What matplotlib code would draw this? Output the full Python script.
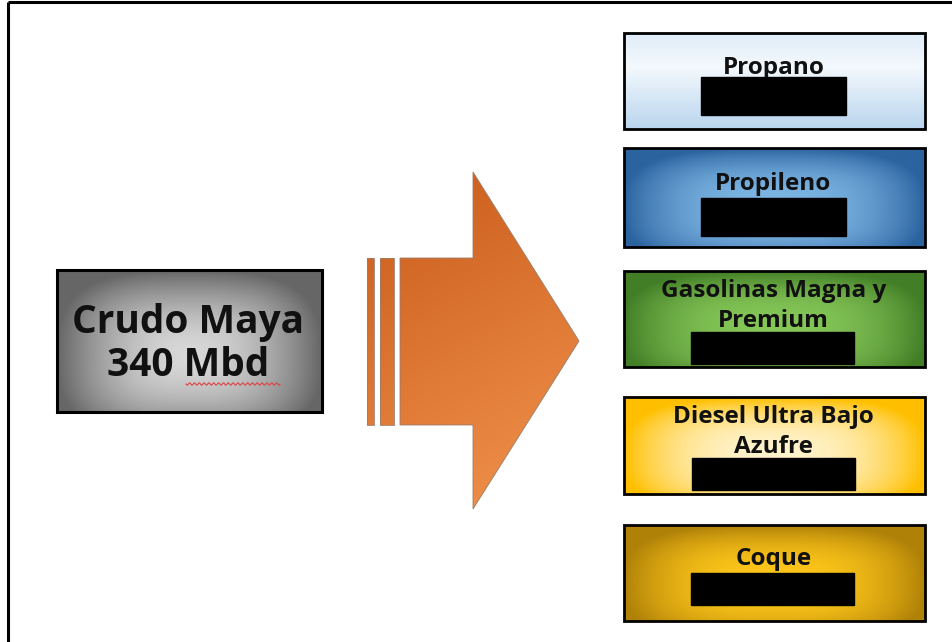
import numpy as np
import matplotlib.pyplot as plt
from matplotlib.patches import Rectangle, Polygon
from matplotlib.path import Path
from matplotlib.colors import to_rgb

plt.rcParams['font.family'] = ['Open Sans', 'DejaVu Sans']

# source box
src_lines = ['Crudo Maya', '340 Mbd']
src_box = (57, 270, 322, 412)

# product boxes (right column)
products = ['Propano', 'Propileno', 'Gasolinas Magna y\nPremium',
            'Diesel Ultra Bajo\nAzufre', 'Coque']
box_tops = [33, 148, 271, 397, 525]
box_bottoms = [129, 247, 367, 494, 621]
label_y = [68, 184, 306, 432, 559]
hidden_top = [77, 198, 332, 458, 573]
hidden_bottom = [115, 236, 364, 490, 605]
hidden_left = [701, 701, 691, 692, 691]
hidden_right = [846, 846, 854, 855, 854]
edge_cols = ['#b9d5ee', '#2c64a0', '#437f27', '#ffc000', '#b08208']
centre_cols = ['#f4f9fd', '#7db6e4', '#86c758', '#fff3cc', '#ffc71a']
modes = ['vertical', 'radial', 'radial', 'radial', 'radial']

# arrow outline
stripes = [(367, 374), (380, 394)]
body_x0, head_x0, tip_x = 400, 473, 579
body_y0, body_y1 = 258, 425
head_y0, head_y1, tip_y = 172, 509, 341


def gradient(w, h, edge, centre, mode, power=1.6):
    u = np.linspace(-1, 1, w)
    v = np.linspace(-1, 1, h)
    U, V = np.meshgrid(u, v)
    if mode == 'radial':
        r = np.sqrt(np.abs(U) ** 3 + (np.abs(V - 0.2) / 1.2) ** 3)
        t = np.clip(r, 0, 1) ** power
    else:
        t = np.where(V < -0.3, 0.35 * np.abs(V + 0.3) / 0.7, (V + 0.3) / 1.3)
    e = np.array(to_rgb(edge))
    c = np.array(to_rgb(centre))
    return c[None, None, :] * (1 - t[..., None]) + e[None, None, :] * t[..., None]


fig = plt.figure(figsize=(9.53, 6.42), dpi=100)
ax = fig.add_axes([0, 0, 1, 1])

# outer frame (top and left)
ax.plot([8, 953], [2, 2], color='black', lw=2.2, solid_capstyle='butt')
ax.plot([8, 8], [2, 642], color='black', lw=2.2, solid_capstyle='butt')

# source box
x0, y0, x1, y1 = src_box
img = gradient(int(x1 - x0), int(y1 - y0), '#666666', '#d8d8d8', 'radial', power=1.2)
ax.imshow(img, extent=(x0, x1, y1, y0), origin='upper', aspect='auto', zorder=1)
ax.add_patch(Rectangle((x0, y0), x1 - x0, y1 - y0, fill=False, ec='black', lw=2.2, zorder=3))
ax.text((x0 + x1) / 2 - 1, 322, src_lines[0], ha='center', va='center',
        fontsize=28, fontweight='bold', color='#111111', zorder=4)
ax.text((x0 + x1) / 2 - 1, 366, src_lines[1], ha='center', va='center',
        fontsize=28, fontweight='bold', color='#111111', zorder=4)
# spell-check squiggle under "Mbd"
sx = np.linspace(186, 280, 120)
ax.plot(sx, 384 + 1.2 * np.sin((sx - 186) * 1.3), color='#e04040', lw=0.8, zorder=4)

# arrow
head = [(body_x0, body_y0), (head_x0, body_y0), (head_x0, head_y0), (tip_x, tip_y),
        (head_x0, head_y1), (head_x0, body_y1), (body_x0, body_y1)]
polys = [head] + [[(a, body_y0), (b, body_y0), (b, body_y1), (a, body_y1)] for a, b in stripes]
clip = Path.make_compound_path(*[Path(p + [p[0]], closed=True) for p in polys])
ax_x0 = stripes[0][0]
h = head_y1 - head_y0
w = tip_x - ax_x0
tv = np.linspace(0, 1, h)[:, None]
tu = np.linspace(0, 1, w)[None, :]
t = np.clip(0.75 * tv + 0.25 * tu, 0, 1)
a_top = np.array(to_rgb('#c95a1a'))
a_bot = np.array(to_rgb('#f2944e'))
arr = a_top * (1 - t[..., None]) + a_bot * t[..., None]
im = ax.imshow(arr, extent=(ax_x0, tip_x, head_y1, head_y0), origin='upper', aspect='auto', zorder=1)
im.set_clip_path(clip, ax.transData)
for p in polys:
    ax.add_patch(Polygon(p, closed=True, fill=False, ec='#9a7c6a', lw=0.6, zorder=2))

# product boxes
bx0, bx1 = 624, 925
for i, name in enumerate(products):
    top, bot = box_tops[i], box_bottoms[i]
    img = gradient(bx1 - bx0, bot - top, edge_cols[i], centre_cols[i], modes[i])
    ax.imshow(img, extent=(bx0, bx1, bot, top), origin='upper', aspect='auto', zorder=1)
    ax.add_patch(Rectangle((bx0, top), bx1 - bx0, bot - top, fill=False, ec='black', lw=2.0, zorder=3))
    ax.text((bx0 + bx1) / 2 - 1, label_y[i], name, ha='center', va='center',
            fontsize=17.5, fontweight='bold', color='#111111', linespacing=1.3, zorder=4)
    ax.add_patch(Rectangle((hidden_left[i], hidden_top[i]), hidden_right[i] - hidden_left[i],
                           hidden_bottom[i] - hidden_top[i], color='black', zorder=5))

ax.set_xlim(0, 953)
ax.set_ylim(642, 0)
ax.axis('off')
fig.savefig('out.png', dpi=100)
